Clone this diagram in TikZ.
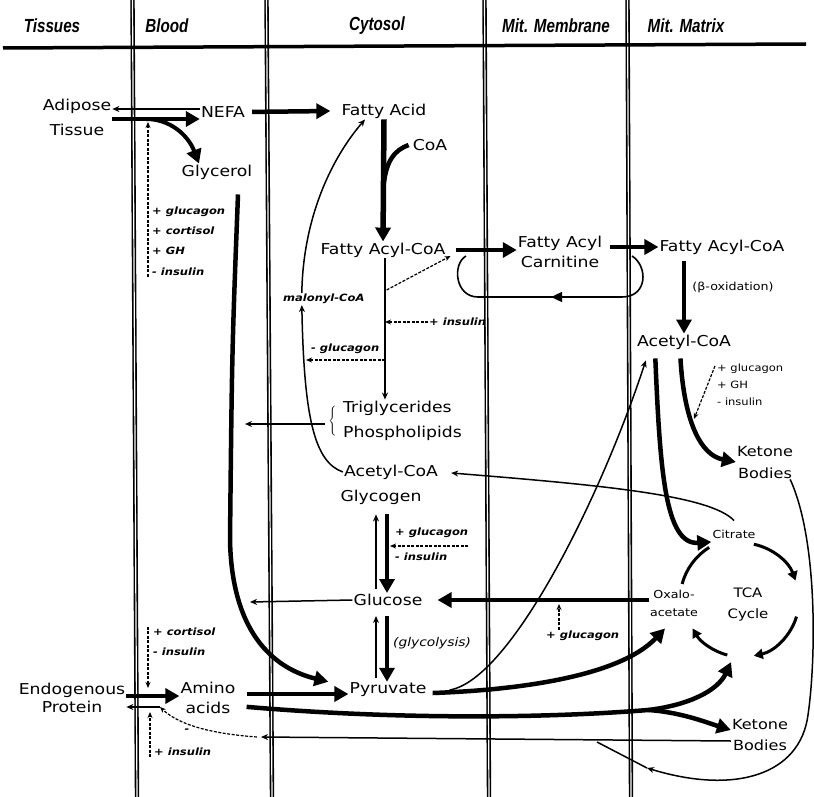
\documentclass[tikz,border=0pt]{standalone}
\usepackage{fontspec}
\setmainfont{DejaVu Sans}[FakeStretch=1.15]
\newfontfamily\headfont{Liberation Sans}[FakeStretch=0.8]
\usetikzlibrary{arrows.meta,calc,decorations.markings}

\begin{document}
\begin{tikzpicture}[x=1pt, y=1pt,
    lbl/.style={font=\fontsize{15}{20}\selectfont, align=center, inner sep=1pt},
    head/.style={font=\headfont\bfseries\itshape\fontsize{19}{22}\selectfont, inner sep=0pt},
    hormone/.style={font=\bfseries\itshape\fontsize{10}{20.3}\selectfont, align=left, inner sep=1pt, anchor=west},
    note/.style={font=\fontsize{11}{18}\selectfont, align=center, inner sep=1pt},
    wall/.style={double, line width=1.6pt, double distance=1.2pt},
    fat/.style={line width=4.5pt, -{Triangle[length=14pt,width=15pt]}},
    thinarr/.style={line width=1.5pt, -{Stealth[length=7pt,width=6pt]}},
    dasharr/.style={line width=1.2pt, dash pattern=on 3pt off 1.5pt, -{Stealth[length=6pt,width=5pt]}},
    cycarr/.style={line width=3pt, -{Triangle[length=9pt,width=10pt]}},
    midarr/.style={postaction={decorate}, decoration={markings,
        mark=at position #1 with {\arrow{Triangle[length=11pt,width=10pt]}}}}]
        \useasboundingbox (0,0) rectangle (814,-797);
        \draw [wall] (132.5,0) -- (137,-797);
        \draw [wall] (266.5,0) -- (272,-797);
        \draw [wall] (484.5,0) -- (489,-797);
        \draw [wall] (627.5,0) -- (631,-797);
        \draw [line width=3.5pt] (3,-48) -- (806,-44);
        \node [head] (tis) at (52,-26) {Tissues};
        \node [head] (blo) at (167,-26) {Blood};
        \node [head] (cyt) at (377,-26) {Cytosol};
        \node [head] (mem) at (556,-26) {Mit. Membrane};
        \node [head] (mat) at (686,-26) {Mit. Matrix};

        \node [lbl] (adip) at (77,-117) {Adipose\\[5pt]Tissue};
        \node [lbl] (nefa) at (223,-112) {NEFA};
        \node [lbl] (glyc) at (217,-172) {Glycerol};
        \node [hormone] (horm) at (151,-241) {+ glucagon\\+ cortisol\\+ GH\\- insulin};
        \node [lbl] (fa) at (384,-111) {Fatty Acid};
        \node [lbl] (coa) at (430,-145) {CoA};
        \node [lbl] (facoa) at (383,-250) {Fatty Acyl-CoA};
        \node [lbl] (facar) at (560,-252) {Fatty Acyl\\Carnitine};
        \node [lbl] (facoam) at (722,-247) {Fatty Acyl-CoA};
        \node [note] (box) at (733,-287) {(β-oxidation)};
        \node [hormone] (malo) at (282,-299) {malonyl-CoA};
        \node [hormone] (ins1) at (428,-322) {+ insulin};
        \node [hormone] (glu1) at (310,-349) {- glucagon};
        \node [lbl, anchor=west] (tg) at (342,-408) {Triglycerides};
        \node [lbl, anchor=west] (pl) at (342,-433) {Phospholipids};
        \node (brace) at (333,-421) {$\left\{\vrule height 13pt depth 13pt width 0pt\right.$};
        \node [lbl] (acoa) at (391,-472) {Acetyl-CoA};
        \node [lbl] (glyg) at (381,-497) {Glycogen};
        \node [hormone] (glu2) at (394,-533) {+ glucagon};
        \node [hormone] (ins2) at (394,-557) {- insulin};
        \node [lbl] (gluc) at (388,-600) {Glucose};
        \node [lbl, font=\itshape\fontsize{12}{14}\selectfont] (glyco) at (432,-643) {(glycolysis)};
        \node [lbl] (pyr) at (388,-690) {Pyruvate};
        \node [lbl, font=\fontsize{15}{18}\selectfont] (endo) at (72,-698) {Endogenous\\Protein};
        \node [lbl] (amino) at (208,-698) {Amino\\acids};
        \node [hormone] (cort) at (152,-642) {+ cortisol\\- insulin};
        \node [hormone] (ins3) at (153,-752) {+ insulin};
        \node [hormone, anchor=center] (minus) at (187,-731) {-};
        \node [lbl] (acoam) at (684,-342) {Acetyl-CoA};
        \node [hormone, font=\fontsize{10}{17}\selectfont] (hormm) at (716,-385) {+ glucagon\\+ GH\\- insulin};
        \node [lbl, font=\fontsize{14}{22}\selectfont] (ket1) at (765,-462) {Ketone\\Bodies};
        \node [note] (cit) at (734,-534) {Citrate};
        \node [note] (oxa) at (674,-603) {Oxalo-\\acetate};
        \node [lbl, font=\fontsize{13}{21}\selectfont] (tca) at (748,-605) {TCA\\Cycle};
        \node [hormone] (glu3) at (545,-636) {+ glucagon};
        \node [lbl, font=\fontsize{14}{21}\selectfont] (ket2) at (760,-735) {Ketone\\Bodies};

        \coordinate (lipo) at (146,-119);
        \draw [fat] (adip.east |- lipo) -- (nefa.west |- lipo);
        \draw [thinarr] (nefa.west |- 0,-109) -- (adip.east |- 0,-109);
        \draw [fat, line width=4pt] (lipo) .. controls (170,-119) and (188,-135)
            .. ([xshift=-18pt]glyc.north);
        \draw [dasharr, shorten >=3pt] ([xshift=-3pt]horm.south west)
            -- ([xshift=-3pt]horm.west |- lipo);
        \draw [fat, shorten <=6pt] (nefa.east) -- ([xshift=-10pt]fa.west);
        \draw [fat, line width=5.5pt] (fa.south) -- (facoa.north);
        \coordinate (coaj) at ($(fa.south)!0.55!(facoa.north)$);
        \draw [line width=4.5pt] (coaj) .. controls (386,-160) and (395,-150)
            .. ([xshift=-3pt]coa.west);
        \draw [fat, shorten <=9pt] (facoa.east) -- (facar.west |- facoa.east);
        \draw [fat, shorten <=7pt] (facar.east |- facoam.west) -- (facoam.west);
        \coordinate (loopR) at (632,-256);
        \coordinate (loopL) at (466,-256);
        \draw [line width=1.6pt, midarr=0.5] (loopR) .. controls (648,-266) and (648,-297)
            .. (622,-297) -- (478,-297) .. controls (455,-297) and (452,-264) .. (loopL);

        \coordinate (stem) at ([xshift=2pt]facoa.south);
        \draw [thinarr] (stem) -- (stem |- tg.north);
        \draw [dasharr] ([xshift=21pt,yshift=9pt]malo.east)
            -- ([xshift=4pt,yshift=-6pt]facoa.east);
        \draw [dasharr] (ins1.west) -- (stem |- ins1.west);
        \draw [dasharr] (stem |- 0,-360) -- (306,-360);
        \draw [thinarr] (acoa.west) .. controls (315,-462) and (304,-420)
            .. ([xshift=-22pt]malo.south);
        \draw [thinarr] ([xshift=-22pt]malo.north) .. controls (303,-220) and (330,-160)
            .. ([xshift=-19pt]fa.south);
        \coordinate (tgout) at (245,-424);
        \draw [thinarr] (brace.west |- tgout) -- (tgout);
        \draw [thinarr, shorten >=12pt] ([yshift=8pt]cit.north) .. controls (710,-495)
            and (600,-485) .. (acoa.east);

        \draw [thinarr, shorten <=4pt, shorten >=9pt] ([xshift=-12pt]gluc.north)
            -- ([xshift=-5pt]glyg.south);
        \draw [fat, line width=4pt, shorten <=9pt] ([xshift=6pt]glyg.south)
            -- ([xshift=-1pt]gluc.north);
        \coordinate (gg) at (468,-546);
        \draw [dasharr] (gg) -- (gg -| 390,0);
        \coordinate (glout) at (250,-602);
        \draw [thinarr] (gluc.west) -- (glout);
        \draw [fat, shorten >=14pt] (oxa.west |- gluc.east) -- (gluc.east);
        \coordinate (gl3) at (559,-604);
        \draw [dasharr] (gl3 |- glu3.north) -- (gl3);
        \draw [thinarr, shorten <=4pt, shorten >=9pt] ([xshift=-12pt]pyr.north)
            -- ([xshift=-12pt]gluc.south);
        \draw [fat, line width=4pt, shorten <=9pt] ([xshift=-1pt]gluc.south)
            -- ([xshift=-1pt]pyr.north);
        \draw [fat] ([xshift=21pt,yshift=-14pt]glyc.south) .. controls (232,-350) .. (230,-540)
            .. controls (232,-640) and (280,-670) .. ([xshift=-20pt]pyr.north west);

        \draw [fat, shorten <=10pt] (amino.east |- 0,-694) -- ([yshift=-4pt]pyr.west);
        \draw [fat] (endo.east |- 0,-696) -- (amino.west |- 0,-696);
        \coordinate (aaj) at (160,-707);
        \draw [thinarr] (aaj) -- (endo.east |- aaj);
        \draw [dasharr] ([xshift=-4pt]cort.north west) -- ([xshift=-4pt]cort.west |- 0,-688);
        \draw [dasharr] ([xshift=-3pt]ins3.south west) -- ([xshift=-3pt]ins3.west |- 0,-712);
        \coordinate (ketin) at (261,-737);
        \draw [thinarr] ([yshift=-6pt]ket2.west) -- (ketin);
        \draw [dasharr] ([xshift=-4pt]ketin) .. controls (215,-734) and (180,-726) .. (aaj);

        \draw [thinarr] ([xshift=22pt]pyr.east) .. controls (510,-680) and (600,-500)
            .. ([xshift=10pt,yshift=-10pt]acoam.south west);
        \draw [fat] ([xshift=5pt,yshift=-3pt]pyr.east) .. controls (520,-690) and (620,-676)
            .. ([xshift=-9pt,yshift=-11pt]oxa.south);
        \coordinate (tcaC) at (742,-600);
        \coordinate (aasplit) at (648,-710);
        \draw [line width=4.5pt, shorten <=10pt] (amino.east |- 0,-706) .. controls (400,-720)
            and (550,-718) .. (aasplit);
        \draw [fat] (aasplit) .. controls (690,-705) and (718,-690) .. ($(tcaC)+(-100:63)$);
        \draw [fat] (aasplit) .. controls (680,-712) and (705,-722) .. ([yshift=5pt]ket2.west);

        \coordinate (ketarr) at (647,-768);
        \coordinate (ketjoin) at (597,-742);
        \draw [thinarr] ([xshift=-4pt]ket1.south east) .. controls (818,-540) and (816,-660)
            .. (808,-715) .. controls (800,-775) and (735,-795) .. (ketarr);
        \draw [line width=1.5pt] (ketarr) -- (ketjoin);

        \draw [fat, shorten <=6pt] (acoam.north |- facoam.south) -- (acoam.north);
        \draw [fat, shorten <=8pt] ([xshift=-4pt]acoam.south) .. controls (684,-420)
            and (700,-455) .. (ket1.west);
        \coordinate (ketreg) at (694,-419);
        \draw [dasharr] ([xshift=-1pt,yshift=-3pt]hormm.north west) -- (ketreg);
        \draw [fat, shorten <=8pt] ([xshift=-29pt]acoam.south) .. controls (660,-470)
            and (665,-545) .. ([yshift=-8pt]cit.west);

        \draw [cycarr] ($(tcaC)+(78:57)$) arc[start angle=78, end angle=20, radius=57];
        \draw [cycarr] ($(tcaC)+(-17:57)$) arc[start angle=-17, end angle=-78, radius=57];
        \draw [cycarr] ($(tcaC)+(-105:57)$) arc[start angle=-105, end angle=-150, radius=57];
        \draw [line width=3pt] ($(tcaC)+(165:62)$) arc[start angle=165, end angle=122, radius=62];
    \end{tikzpicture}
\end{document}
